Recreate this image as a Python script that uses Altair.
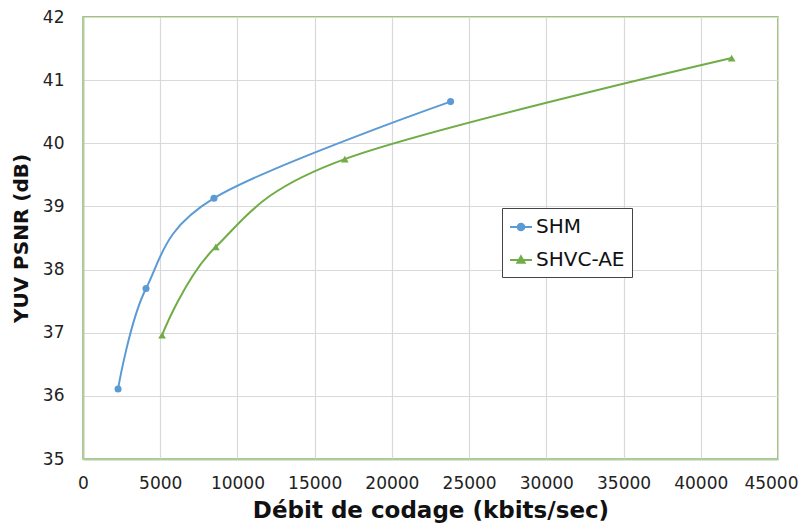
import altair as alt
import pandas as pd

shm_x = [2270, 4080, 8480, 23800]
shm_y = [36.11, 37.70, 39.13, 40.66]
ae_x = [5120, 8600, 16950, 42000]
ae_y = [36.96, 38.36, 39.75, 41.35]
series = ["SHM", "SHVC-AE"]
colors = ["#5B9BD5", "#70AD47"]
x_ticks = list(range(0, 45001, 5000))
y_ticks = list(range(35, 43))

FONT = "DejaVu Sans"
NBSP = "\u00a0"

xenc = alt.X("x:Q", scale=alt.Scale(domain=[0, 45000]),
             axis=alt.Axis(values=x_ticks, format="d", labelOverlap=False, labelFlush=False,
                           labelAlign=alt.condition("datum.value == 45000", alt.value("right"), alt.value("center")),
                           labelOffset=alt.condition("datum.value == 45000", alt.value(20), alt.value(0)),
                           title="Débit de codage (kbits/sec)", titleFontSize=23,
                           labelPadding=16, titlePadding=8))
yenc = alt.Y("y:Q", scale=alt.Scale(domain=[35, 42]),
             axis=alt.Axis(values=y_ticks, title="YUV PSNR (dB)", titleFontSize=20,
                           labelOverlap=False, labelFlush=False, labelPadding=19, titlePadding=11))

circle_path = "M-1,0H1M0.3,0A0.3,0.3,0,1,1,-0.3,0A0.3,0.3,0,1,1,0.3,0Z"
tri_path = "M-1,0H1M0,-0.33L0.33,0.25L-0.33,0.25Z"


def layer_for(name, xs, ys, col, shape, msize, path, legend_kwargs):
    d = pd.DataFrame({"x": xs, "y": ys, "s": [name] * len(xs)})
    leg = alt.Legend(
        orient="none", legendX=419, legendY=191, padding=7,
        labelFont=FONT, labelFontSize=20, labelColor="#111111", labelOffset=3,
        symbolType=path, symbolSize=484, symbolStrokeWidth=2,
        symbolFillColor=col, symbolStrokeColor=col, symbolOpacity=1,
        **legend_kwargs)
    line = alt.Chart(d).mark_line(interpolate="cardinal", strokeWidth=2).encode(
        x=xenc, y=yenc,
        color=alt.Color("s:N", scale=alt.Scale(domain=[name], range=[col]), legend=leg))
    pts = alt.Chart(d).mark_point(filled=True, opacity=1, size=msize, shape=shape, color=col).encode(
        x=xenc, y=yenc)
    return line + pts


shm = layer_for(series[0], shm_x, shm_y, colors[0], "circle", 50, circle_path,
                dict(title=None, strokeColor="transparent", fillColor="transparent", zindex=1))
ae = layer_for(series[1], ae_x, ae_y, colors[1], "triangle-up", 60, tri_path,
               dict(title=NBSP, titleOrient="top", titleFontSize=20, titlePadding=13,
                    strokeColor="#444444", fillColor="white", zindex=0))

chart = alt.layer(shm, ae).resolve_scale(color="independent").properties(
    width=695, height=442,
    autosize=alt.AutoSizeParams(type="none"),
    padding={"left": 75, "top": 9, "right": 21, "bottom": 65},
).configure_view(
    stroke="#7AB648", strokeWidth=1.5
).configure_axis(
    grid=True, gridColor="#D9D9D9", gridWidth=1.2,
    domainColor="#B4CCA4", domainWidth=2, ticks=False,
    labelFont=FONT, labelFontSize=17, labelColor="#222222",
    titleFont=FONT, titleFontWeight="bold", titleColor="#111111",
)

chart.save("out.html", embed_options={"renderer": "svg", "actions": False})
